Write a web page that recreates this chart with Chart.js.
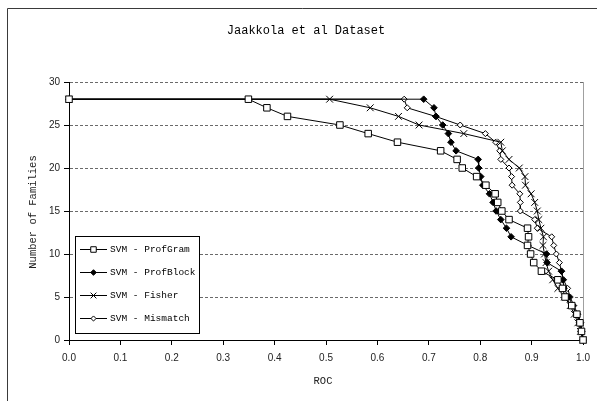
<!DOCTYPE html>
<html>
<head>
<meta charset="utf-8">
<script src="https://cdn.jsdelivr.net/npm/chart.js@4/dist/chart.umd.min.js"></script>
<style>
  html, body { margin: 0; padding: 0; background: #fff; }
  #wrap { width: 597px; height: 401px; }
</style>
</head>
<body>
<div id="wrap"><canvas id="c" width="597" height="401"></canvas></div>
<script>
// ---- data ----
const chartTitle = "Jaakkola et al Dataset";
const xTitle = "ROC";
const yTitle = "Number of Families";
const xTickLabels = ["0.0","0.1","0.2","0.3","0.4","0.5","0.6","0.7","0.8","0.9","1.0"];
const yTickLabels = ["0","5","10","15","20","25","30"];
const seriesNames = ["SVM - ProfGram", "SVM - ProfBlock", "SVM - Fisher", "SVM - Mismatch"];

// number of families (y) for every point, shared by all series
const families = [28, 28, 27, 26, 25, 24, 23, 22, 21, 20, 19, 18, 17, 16, 15, 14, 13, 12, 11, 10, 9, 8, 7, 6, 5, 4, 3, 2, 1, 0];

// ROC (x) per series
const profGramROC  = [0, 0.349, 0.385, 0.425, 0.527, 0.582, 0.639, 0.723, 0.755, 0.765, 0.793, 0.811, 0.829, 0.834, 0.842, 0.856, 0.892, 0.894, 0.892, 0.898, 0.904, 0.919, 0.951, 0.960, 0.965, 0.978, 0.988, 0.994, 0.997, 1.0];
const profBlockROC = [0, 0.690, 0.710, 0.714, 0.727, 0.738, 0.743, 0.753, 0.796, 0.797, 0.801, 0.805, 0.818, 0.825, 0.831, 0.840, 0.851, 0.860, 0.893, 0.929, 0.930, 0.958, 0.961, 0.963, 0.972, 0.980, 0.987, 0.993, 0.996, 1.0];
const fisherROC    = [0, 0.507, 0.586, 0.641, 0.681, 0.768, 0.840, 0.843, 0.856, 0.876, 0.887, 0.888, 0.899, 0.906, 0.911, 0.914, 0.918, 0.923, 0.922, 0.925, 0.928, 0.933, 0.941, 0.951, 0.964, 0.975, 0.983, 0.990, 0.995, 1.0];
const mismatchROC  = [0, 0.652, 0.658, 0.713, 0.761, 0.810, 0.830, 0.838, 0.840, 0.856, 0.861, 0.862, 0.877, 0.878, 0.878, 0.906, 0.911, 0.939, 0.943, 0.948, 0.954, 0.958, 0.962, 0.970, 0.975, 0.982, 0.990, 0.996, 0.998, 1.0];

function pts(xs) { return xs.map((x, i) => ({ x: x, y: families[i] })); }

const styles = [
  { pointStyle: 'rect',     pointRadius: 4.6, pointBackgroundColor: '#ffffff', pointBorderColor: '#000' },
  { pointStyle: 'rectRot',  pointRadius: 3.3, pointBackgroundColor: '#000000', pointBorderColor: '#000' },
  { pointStyle: 'crossRot', pointRadius: 4.8, pointBackgroundColor: '#000000', pointBorderColor: '#000' },
  { pointStyle: 'rectRot',  pointRadius: 3.0, pointBackgroundColor: '#ffffff', pointBorderColor: '#000' }
];
const seriesData = [profGramROC, profBlockROC, fisherROC, mismatchROC];

const datasets = seriesData.map((xs, k) => Object.assign({
  label: seriesNames[k],
  data: pts(xs),
  showLine: true,
  borderColor: '#000',
  borderWidth: 1,
  pointBorderWidth: 1,
  fill: false,
  tension: 0,
  clip: false
}, styles[k]));

const MONO = '"Liberation Mono", "Courier New", monospace';

const decor = {
  id: 'decor',
  beforeDraw(chart) {
    const ctx = chart.ctx;
    const a = chart.chartArea;
    ctx.save();
    // outer chart border
    ctx.strokeStyle = '#3a3a3a';
    ctx.lineWidth = 1;
    ctx.beginPath();
    ctx.moveTo(7.5, 402);
    ctx.lineTo(7.5, 8.5);
    ctx.lineTo(600, 8.5);
    ctx.stroke();
    // plot-area right edge
    ctx.strokeStyle = '#a0a0a0';
    ctx.beginPath();
    ctx.moveTo(Math.round(a.right) + 0.5, a.top);
    ctx.lineTo(Math.round(a.right) + 0.5, a.bottom);
    ctx.stroke();
    ctx.restore();
  },
  afterDraw(chart) {
    const ctx = chart.ctx;
    const a = chart.chartArea;
    ctx.save();
    ctx.fillStyle = '#000';
    // title
    ctx.font = '12px ' + MONO;
    ctx.textAlign = 'center';
    ctx.textBaseline = 'middle';
    ctx.fillText(chartTitle, 306, 31);
    // axis titles
    ctx.font = '10.5px ' + MONO;
    ctx.fillStyle = '#222';
    ctx.fillText(xTitle, 323, 381);
    ctx.save();
    ctx.translate(33, 212);
    ctx.rotate(-Math.PI / 2);
    ctx.fillText(yTitle, 0, 0);
    ctx.restore();

    // legend box
    const lx = a.left + 6, ly = 236, lw = 124, lh = 97;
    ctx.fillStyle = '#fff';
    ctx.fillRect(lx, ly, lw, lh);
    ctx.strokeStyle = '#000';
    ctx.lineWidth = 1;
    ctx.strokeRect(lx + 0.5, ly + 0.5, lw, lh);
    ctx.font = '9.5px ' + MONO;
    ctx.textAlign = 'left';
    ctx.textBaseline = 'middle';
    chart.data.datasets.forEach((ds, i) => {
      const y = ly + 13 + i * 23;
      ctx.strokeStyle = '#000';
      ctx.lineWidth = 1;
      ctx.beginPath();
      ctx.moveTo(lx + 5, y + 0.5);
      ctx.lineTo(lx + 32, y + 0.5);
      ctx.stroke();
      ctx.fillStyle = ds.pointBackgroundColor;
      ctx.strokeStyle = ds.pointBorderColor;
      Chart.helpers.drawPoint(ctx, {
        pointStyle: ds.pointStyle,
        radius: ds.pointRadius * 0.85,
        rotation: 0,
        borderWidth: 1
      }, lx + 18.5, y + 0.5);
      ctx.fillStyle = '#000';
      ctx.fillText(ds.label, lx + 35, y);
    });
    ctx.restore();
  }
};

new Chart(document.getElementById('c'), {
  type: 'scatter',
  data: { datasets: datasets },
  options: {
    responsive: false,
    animation: false,
    devicePixelRatio: 1,
    layout: { padding: { top: 82, right: 10, left: 0, bottom: 0 } },
    plugins: {
      legend: { display: false },
      title: { display: false },
      tooltip: { enabled: false }
    },
    scales: {
      x: {
        type: 'linear',
        min: 0, max: 1,
        afterFit(s) { s.height = 61; },
        afterBuildTicks(s) { s.ticks = xTickLabels.map(t => ({ value: parseFloat(t) })); },
        ticks: {
          autoSkip: false,
          maxRotation: 0,
          padding: 7,
          color: '#222',
          font: { family: '"Liberation Sans", Arial, sans-serif', size: 10 },
          callback: (v, i) => xTickLabels[i]
        },
        grid: { drawOnChartArea: false, drawTicks: true, tickLength: 5, tickColor: '#000', color: '#000' },
        border: { display: true, color: '#000', width: 1 }
      },
      y: {
        type: 'linear',
        min: 0, max: 30,
        afterFit(s) { s.width = 69; },
        afterBuildTicks(s) { s.ticks = yTickLabels.map(t => ({ value: parseFloat(t) })); },
        ticks: {
          autoSkip: false,
          padding: 4,
          color: '#222',
          font: { family: '"Liberation Sans", Arial, sans-serif', size: 10 },
          callback: (v, i) => yTickLabels[i]
        },
        grid: { drawOnChartArea: true, drawTicks: true, tickLength: 5, tickColor: '#000', color: '#6a6a6a', lineWidth: 1 },
        border: { display: true, color: '#000', width: 1, dash: [3, 2] }
      }
    }
  },
  plugins: [decor]
});
</script>
</body>
</html>
